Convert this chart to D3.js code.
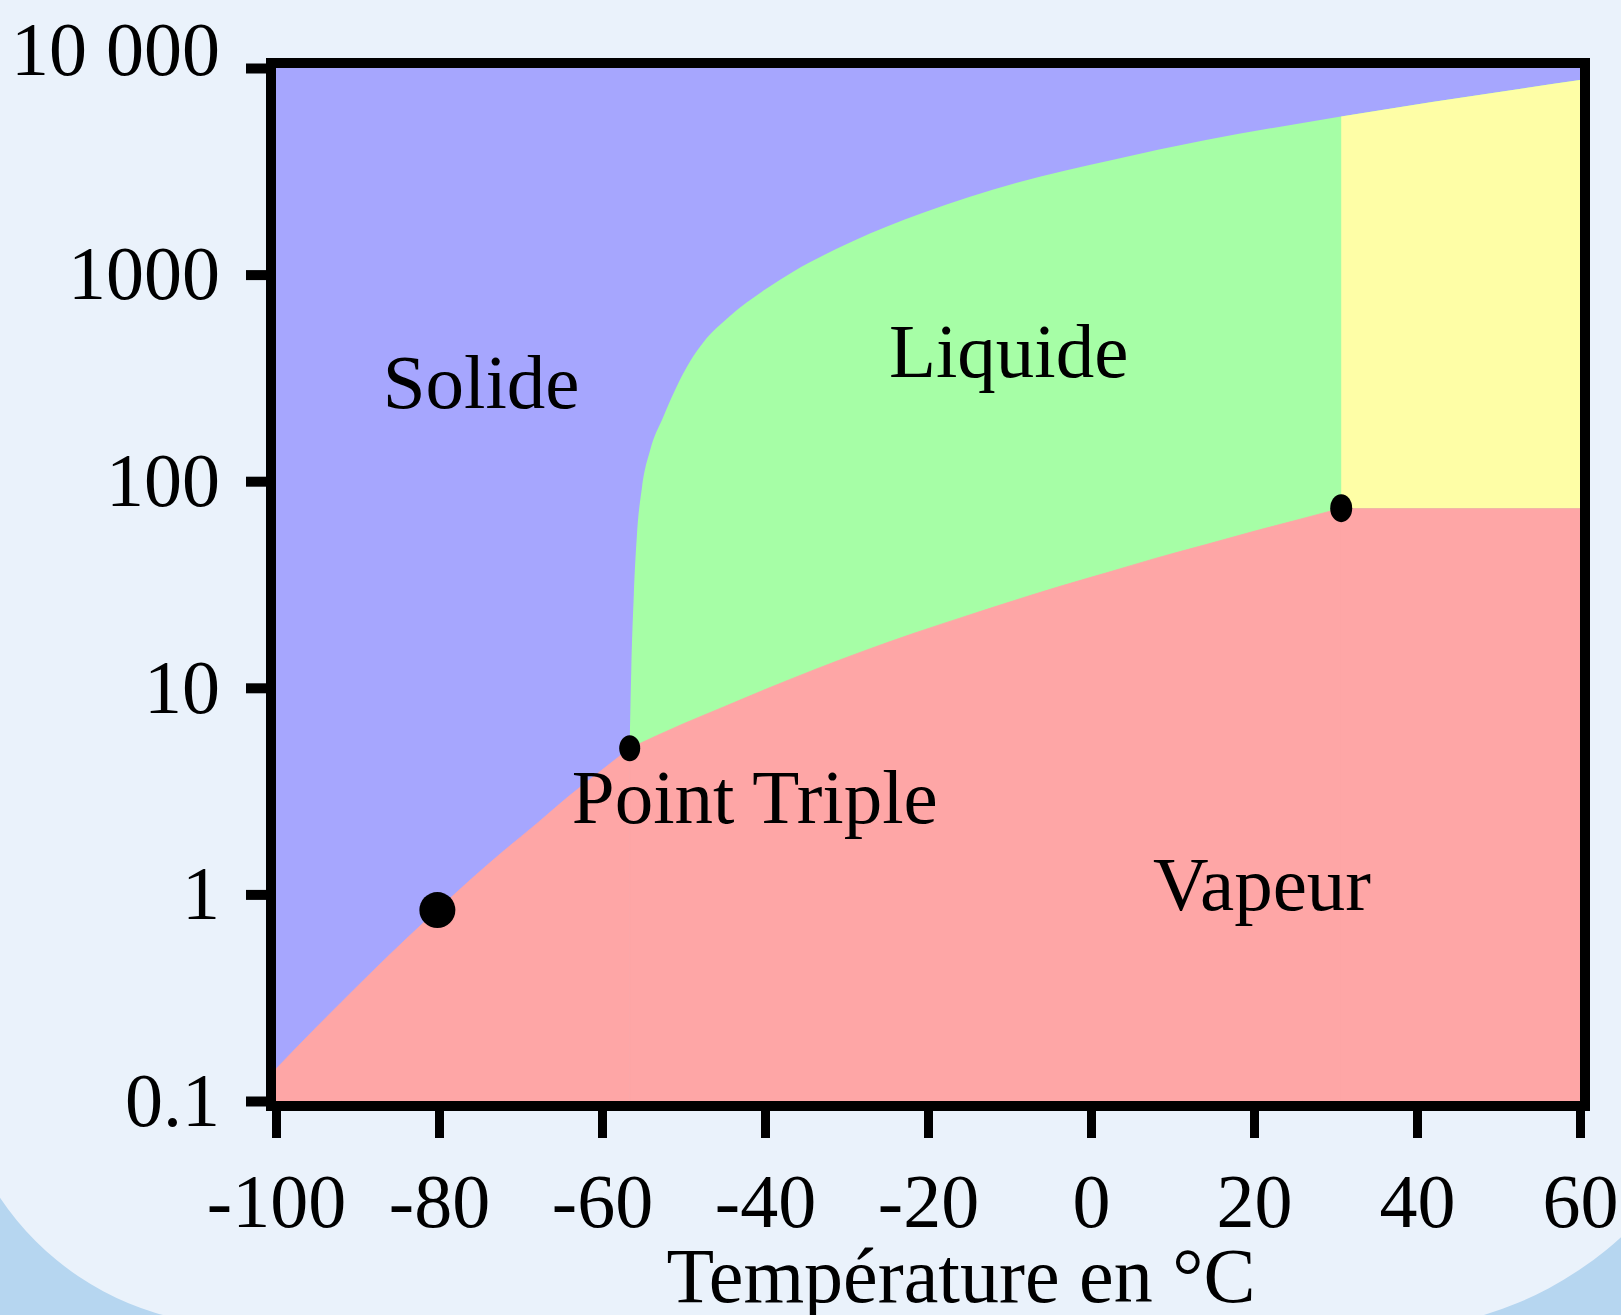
<!DOCTYPE html>
<html>
<head>
<meta charset="utf-8">
<script src="https://cdn.jsdelivr.net/npm/d3@7"></script>
<style>
html, body { margin: 0; padding: 0; background: #b6d6f0; overflow: hidden; }
svg { display: block; }
</style>
</head>
<body>
<svg id="chart" width="1621" height="1315"></svg>
<script>
// ---------------- Data ----------------
const temperatureTicks = [-100, -80, -60, -40, -20, 0, 20, 40, 60];
const pressureTicks = [0.1, 1, 10, 100, 1000, 10000];
const pressureTickLabels = ["0.1", "1", "10", "100", "1000", "10 000"];

// Solid / vapour boundary (sublimation curve), temperature in °C, pressure
const sublimationT = [-100, -96, -92, -88, -84, -80.2, -76, -72, -68, -64, -60, -56.6];
const sublimationP = [0.143, 0.208, 0.30, 0.43, 0.61, 0.84, 1.19, 1.63, 2.2, 3.0, 4.0, 5.1];

// Liquid / vapour boundary (vaporisation curve)
const vaporT = [-56.6, -50, -45, -40, -34, -28, -22, -16, -10, -4, 2, 8, 14, 20, 26, 30.7];
const vaporP = [5.1, 6.7, 8.1, 9.8, 12.2, 15.0, 18.2, 21.8, 26.0, 30.8, 36.1, 42.4, 49.2, 57.2, 66.0, 74];

// Solid / liquid boundary (melting curve)
const meltingT = [-56.6, -56.4, -56.1, -55.7, -55.1, -54.1, -52.5, -50.7, -49.2, -47.6, -44.3, -39.8, -36.6, -29.3, -20.6, -9.1, 2.6, 14.1, 30.3, 60];
const meltingP = [5.1, 12.6, 28, 56, 93, 141, 204, 295, 380, 468, 630, 857, 1030, 1445, 1990, 2780, 3590, 4480, 5790, 8750];

// Marked points
const markedPointNames = ["sublimation", "triple", "critical"];
const markedPointT = [-80.2, -56.6, 30.7];
const markedPointP = [0.84, 5.1, 74];

// Region labels
const regionLabels = ["Solide", "Liquide", "Point Triple", "Vapeur"];
const regionLabelT = [-86.9, -24.8, -63.7, 7.6];
const regionLabelP = [226, 319, 2.22, 0.84];

const xAxisTitle = "Température en °C";

// ---------------- Layout / style ----------------
const W = 1621, H = 1315;
const FONT = "'Liberation Serif', 'Times New Roman', serif";
const colors = {
  solid: "#a6a6fe",
  liquid: "#a6fea6",
  vapour: "#fea6a6",
  supercritical: "#fefea6",
  bgLight: "#eaf2fb",
  bgDark: "#b6d6f0"
};
const dotRadii = { sublimation: [18, 18], triple: [10.5, 13], critical: [11, 14] };

const svg = d3.select("#chart");

// Background: light rounded panel over darker blue
svg.append("rect").attr("width", W).attr("height", H).attr("fill", colors.bgDark);
svg.append("path")
  .attr("fill", colors.bgLight)
  .attr("d", "M -48,-20 L -48,1039 A 286 286 0 0 0 238,1325 L 1382,1330 A 354 354 0 0 0 1736,976 L 1736,-20 Z");

const x = d3.scaleLinear().domain([-100, 60]).range([276, 1580]);
const y = d3.scaleLog().domain([0.1, 10000]).range([1101, 68]);

const x0 = x(-100), x1 = x(60), yTop = y(10000), yBot = y(0.1);

const defs = svg.append("defs");
defs.append("clipPath").attr("id", "plotClip")
  .append("rect").attr("x", x0).attr("y", yTop).attr("width", x1 - x0).attr("height", yBot - yTop);

const plot = svg.append("g").attr("clip-path", "url(#plotClip)");

// Solid (background of plot)
plot.append("rect")
  .attr("x", x0).attr("y", yTop).attr("width", x1 - x0).attr("height", yBot - yTop)
  .attr("fill", colors.solid);

const curve = d3.curveMonotoneX;
const melting = meltingT.map((t, i) => [t, meltingP[i]]);
const sublimation = sublimationT.map((t, i) => [t, sublimationP[i]]);
const vaporisation = vaporT.map((t, i) => [t, vaporP[i]]);

const areaBelow = d3.area()
  .x(d => x(d[0]))
  .y0(yBot)
  .y1(d => y(d[1]))
  .curve(curve);

// Liquid: everything below melting curve
const liquidPath = areaBelow(melting);
plot.append("path").attr("d", liquidPath).attr("fill", colors.liquid);

// Supercritical fluid: T > Tc, p > pc, below melting curve
const Tc = markedPointT[2], pc = markedPointP[2];
defs.append("clipPath").attr("id", "meltClip").append("path").attr("d", liquidPath);
plot.append("rect")
  .attr("clip-path", "url(#meltClip)")
  .attr("x", x(Tc)).attr("y", yTop)
  .attr("width", x1 - x(Tc)).attr("height", y(pc) - yTop)
  .attr("fill", colors.supercritical);

// Vapour
plot.append("path").attr("d", areaBelow(sublimation))
  .attr("fill", colors.vapour).attr("stroke", colors.vapour).attr("stroke-width", 0.8);
plot.append("path").attr("d", areaBelow(vaporisation))
  .attr("fill", colors.vapour).attr("stroke", colors.vapour).attr("stroke-width", 0.8);
plot.append("rect")
  .attr("x", x(Tc) - 0.5).attr("y", y(pc))
  .attr("width", x1 - x(Tc) + 0.5).attr("height", yBot - y(pc))
  .attr("fill", colors.vapour);

// Marked points
plot.selectAll("ellipse.pt")
  .data(markedPointNames)
  .join("ellipse")
  .attr("class", "pt")
  .attr("cx", (d, i) => x(markedPointT[i]))
  .attr("cy", (d, i) => y(markedPointP[i]))
  .attr("rx", d => dotRadii[d][0])
  .attr("ry", d => dotRadii[d][1])
  .attr("fill", "#000");

// Region labels
svg.append("g").selectAll("text")
  .data(regionLabels)
  .join("text")
  .attr("x", (d, i) => x(regionLabelT[i]))
  .attr("y", (d, i) => y(regionLabelP[i]))
  .attr("font-family", FONT)
  .attr("font-size", 77)
  .attr("fill", "#000")
  .text(d => d);

// Axes
const yAxis = d3.axisLeft(y)
  .tickValues(pressureTicks)
  .tickFormat((d, i) => pressureTickLabels[i])
  .tickSize(30)
  .tickPadding(26);
const gy = svg.append("g").attr("transform", `translate(${x0},0)`).call(yAxis);
gy.select(".domain").remove();
gy.selectAll(".tick line").attr("stroke", "#000").attr("stroke-width", 10);
gy.selectAll(".tick text")
  .attr("font-family", FONT).attr("font-size", 76).attr("fill", "#000")
  .attr("transform", d => d === 10000 ? "translate(0,-18)" : null);

const xAxis = d3.axisBottom(x)
  .tickValues(temperatureTicks)
  .tickFormat(d => String(d))
  .tickSize(37)
  .tickPadding(35);
const gx = svg.append("g").attr("transform", `translate(0,${yBot})`).call(xAxis);
gx.select(".domain").remove();
gx.selectAll(".tick line").attr("stroke", "#000").attr("stroke-width", 9);
gx.selectAll(".tick text")
  .attr("font-family", FONT).attr("font-size", 76).attr("fill", "#000");

// Frame
const bw = 10;
svg.append("rect")
  .attr("x", x0 - bw / 2).attr("y", yTop - bw / 2)
  .attr("width", x1 - x0 + bw).attr("height", yBot - yTop + bw)
  .attr("fill", "none").attr("stroke", "#000").attr("stroke-width", bw);

// Axis title
svg.append("text")
  .attr("x", 961).attr("y", 1302)
  .attr("text-anchor", "middle")
  .attr("font-family", FONT).attr("font-size", 78).attr("fill", "#000")
  .text(xAxisTitle);
</script>
</body>
</html>
